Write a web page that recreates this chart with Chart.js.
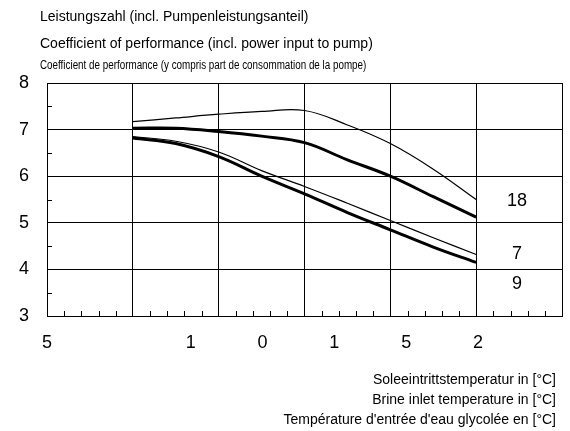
<!DOCTYPE html><html><head><script src="https://cdn.jsdelivr.net/npm/chart.js"></script>
<style>body{margin:0;background:#fff}#w{width:570px;height:431px}</style></head><body><div id="w"><canvas id="c"></canvas></div>
<script>
const xs=[1,1.5,2,2.5,3,3.5,4,4.5,5];
const s18thin=[7.17,7.25,7.33,7.39,7.41,7.1,6.7,6.15,5.5];
const s18=[7.03,7.03,6.96,6.86,6.72,6.35,6.0,5.56,5.12];
const s7=[6.85,6.75,6.52,6.12,5.78,5.42,5.05,4.68,4.32];
const s9=[6.82,6.7,6.42,6.0,5.62,5.22,4.85,4.48,4.15];
const xLabels=['5','','1','0','1','5','2','0'];
const seriesLabels=['18','7','9'];
const titles=['Leistungszahl (incl. Pumpenleistungsanteil)','Coefficient of performance (incl. power input to pump)','Coefficient de performance (y compris part de consommation de la pompe)'];
const axisTitles=['Soleeintrittstemperatur in [°C]','Brine inlet temperature in [°C]','Température d\'entrée d\'eau glycolée en [°C]'];
const mk=(d,w)=>({data:xs.map((x,i)=>({x,y:d[i]})),borderColor:'#000',borderWidth:w,pointRadius:0,tension:0.4,fill:false});
const txt={id:'txt',afterDraw(c){const g=c.ctx;g.save();g.fillStyle='#000';g.textBaseline='middle';
g.font='14px "Liberation Sans",Arial';g.fillText(titles[0],40,17);g.fillText(titles[1],40,44);
g.save();g.translate(40,66);g.scale(0.82,1);g.font='12px "Liberation Sans"';g.fillText(titles[2],0,0);g.restore();
g.textAlign='right';g.font='14px "Liberation Sans"';axisTitles.forEach((t,i)=>g.fillText(t,556,380+i*20));
g.textAlign='center';g.font='18px "Liberation Sans"';const ys=[201,254,284];seriesLabels.forEach((t,i)=>g.fillText(t,517,ys[i]));
const y=c.scales.y,a=c.chartArea;g.strokeStyle='#000';g.lineWidth=1;
for(let v=3.5;v<8;v++){const p=Math.round(y.getPixelForValue(v))+.5;g.beginPath();g.moveTo(a.left,p);g.lineTo(a.left+5,p);g.stroke();}
const x=c.scales.x;for(let v=0.2;v<6;v+=0.2){if(Math.abs(v-Math.round(v))<0.01)continue;const p=Math.round(x.getPixelForValue(v))+.5;g.beginPath();g.moveTo(p,a.bottom);g.lineTo(p,a.bottom-5);g.stroke();}
g.restore();}};
new Chart(document.getElementById('c'),{type:'line',data:{datasets:[mk(s18thin,1.2),mk(s18,3),mk(s7,1.2),mk(s9,3)]},
options:{responsive:true,maintainAspectRatio:false,animation:false,layout:{padding:{top:83,left:0,right:7,bottom:0}},
plugins:{legend:{display:false},tooltip:{enabled:false}},
scales:{x:{type:'linear',min:0,max:6,grid:{color:'#000',drawTicks:false},border:{color:'#000'},ticks:{display:false,stepSize:1}},
x2:{type:'linear',position:'bottom',min:0,max:7.17,grid:{display:false},border:{display:false},ticks:{stepSize:1,autoSkip:false,color:'#000',font:{size:18,family:'Liberation Sans'},padding:8,callback:v=>xLabels[v]??''},afterFit(s){s.height=115;}},
y:{min:3,max:8,grid:{color:'#000',drawTicks:false},border:{color:'#000'},ticks:{stepSize:1,color:'#000',padding:18,font:{size:18,family:'Liberation Sans'}},afterFit(s){s.width=47;}}}},
plugins:[txt]});
</script></body></html>
